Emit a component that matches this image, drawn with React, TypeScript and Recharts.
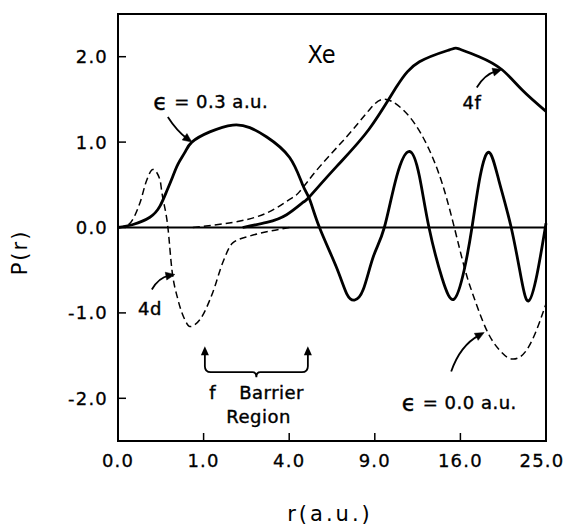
import React from 'react';
import { LineChart, Line, XAxis, YAxis, ReferenceLine, ReferenceArea, ReferenceDot } from 'recharts';

// r (a.u.) values and P(r) values
const eps03R = [0, 0.031, 0.139, 0.24, 0.326, 0.396, 0.489, 0.61, 0.744, 1.15, 1.8, 2.37, 3.02, 4.02, 4.65, 5.01, 5.54, 6.5, 7.15, 7.63, 8.2, 8.9, 9.68, 10.6, 11.6, 12.4, 13.2, 14.35, 15.4, 16.35, 17.1, 17.9, 18.8, 19.8, 21.1, 22.2, 23.0, 23.96, 25];
const eps03P = [0, 0.035, 0.12, 0.25, 0.43, 0.57, 0.74, 0.88, 1.0, 1.12, 1.2, 1.17, 1.06, 0.82, 0.5, 0.33, 0, -0.46, -0.78, -0.85, -0.73, -0.34, 0, 0.6, 0.89, 0.6, 0, -0.6, -0.84, -0.5, 0, 0.6, 0.88, 0.55, 0, -0.6, -0.86, -0.55, 0.05];

const f4R = [2.12, 3.02, 3.88, 4.65, 5.0, 6.5, 8.6, 10.6, 12.4, 15.0, 15.9, 17.8, 20.1, 22.3, 25];
const f4P = [0, 0.06, 0.15, 0.29, 0.36, 0.71, 1.15, 1.65, 1.94, 2.08, 2.09, 2.0, 1.85, 1.61, 1.36];

const d4R = [0, 0.0136, 0.066, 0.114, 0.166, 0.24, 0.263, 0.34, 0.396, 0.489, 0.61, 0.704, 0.913, 1.226, 1.498, 1.797, 2.367, 3.016, 4.02];
const d4P = [0, 0.03, 0.29, 0.56, 0.68, 0.56, 0.41, 0, -0.49, -0.84, -1.08, -1.16, -1.08, -0.76, -0.41, -0.18, -0.1, -0.05, 0];

const eps00R = [0.764, 1.797, 3.02, 4.02, 4.5, 5.54, 7.12, 8.63, 9.83, 11.58, 13.22, 14.7, 16.17, 17.12, 18.5, 19.82, 21.2, 23.06, 24.77, 25];
const eps00P = [0, 0.06, 0.17, 0.33, 0.42, 0.71, 1.06, 1.38, 1.5, 1.3, 0.91, 0.36, -0.37, -0.76, -1.19, -1.43, -1.54, -1.39, -0.96, -0.9];

const xTicks = [0, 1, 4, 9, 16, 25];
const yTicks = [-2, -1, 0, 1, 2];

// annotation texts (anchored in data coordinates)
const noteTexts = ['Xe', '= 0.3 a.u.', '4f', '4d', 'f', 'Barrier', 'Region', '= 0.0 a.u.'];
const noteEps = [false, true, false, false, false, false, false, true];
const noteR = [5.65, 1.175, 17.1, 0.139, 1.226, 3.22, 2.7, 15.9];
const noteP = [2.02, 1.47, 1.46, -0.95, -1.93, -1.93, -2.21, -2.05];

// arrow tips (data coordinates)
const arrowR = [0.744, 20.1, 0.441, 18.3];
const arrowP = [1.0, 1.85, -0.55, -1.23];
// brace anchored at left arrow tip
const braceR = 1.03;
const braceP = -1.39;

const toRows = (rs: number[], ps: number[]) => rs.map((r, i) => ({ r, p: ps[i] }));
const eps03 = toRows(eps03R, eps03P);
const f4 = toRows(f4R, f4P);
const d4 = toRows(d4R, d4P);
const eps00 = toRows(eps00R, eps00P);

const FONT = "'DejaVu Sans', 'Noto Sans', sans-serif";
const arrowGeom = [
  { tx: -24, ty: -25, cx: -15, cy: -11 },
  { tx: -25, ty: 18, cx: -17, cy: 5 },
  { tx: -23, ty: 15, cx: -16, cy: 3 },
  { tx: -33, ty: 39, cx: -24, cy: 13 },
];

const head = (x: number, y: number, ux: number, uy: number) => {
  const len = 9, w = 4;
  const bx = x - ux * len, by = y - uy * len;
  return `M${x},${y} L${bx - uy * w},${by + ux * w} L${bx + uy * w},${by - ux * w} Z`;
};

const makeArrow = (i: number) => (props: any) => {
  const { cx, cy } = props;
  const g = arrowGeom[i];
  const x0 = cx + g.tx, y0 = cy + g.ty, qx = cx + g.cx, qy = cy + g.cy;
  let ux = cx - qx, uy = cy - qy;
  const l = Math.hypot(ux, uy) || 1;
  ux /= l; uy /= l;
  return (
    <g>
      <path d={`M${x0},${y0} Q${qx},${qy} ${cx - ux * 6},${cy - uy * 6}`} fill="none" stroke="#000" strokeWidth={1.8} />
      <path d={head(cx, cy, ux, uy)} fill="#000" stroke="#000" strokeWidth={0.5} />
    </g>
  );
};

const makeNote = (i: number) => (props: any) => {
  const { cx, cy } = props;
  if (i === 0) {
    return (
      <text x={cx} y={cy} textAnchor="middle" dominantBaseline="central" fill="#000"
        style={{ fontSize: 25, fontFamily: "'Liberation Sans Narrow', 'DejaVu Sans Condensed', 'Liberation Sans', sans-serif" }}>
        {noteTexts[i]}
      </text>
    );
  }
  return (
    <text x={cx} y={cy} textAnchor="middle" dominantBaseline="central" fill="#000" stroke="#000" strokeWidth={0.4}
      style={{ fontSize: 18, fontFamily: FONT, letterSpacing: 0.5 }}>
      {noteEps[i] ? <tspan style={{ fontSize: 23 }}>ϵ</tspan> : null}
      {noteEps[i] ? ' ' : ''}
      {noteTexts[i]}
    </text>
  );
};

const Brace = (props: any) => {
  const { cx, cy } = props;
  const w = 103;
  const d = `M${cx},${cy + 6} L${cx},${cy + 20} Q${cx},${cy + 26} ${cx + 6},${cy + 26} L${cx + w / 2 - 4},${cy + 26} Q${cx + w / 2},${cy + 26} ${cx + w / 2},${cy + 31} Q${cx + w / 2},${cy + 26} ${cx + w / 2 + 4},${cy + 26} L${cx + w - 6},${cy + 26} Q${cx + w},${cy + 26} ${cx + w},${cy + 20} L${cx + w},${cy + 6}`;
  return (
    <g>
      <path d={d} fill="none" stroke="#000" strokeWidth={1.8} />
      <path d={head(cx, cy, 0, -1)} fill="#000" />
      <path d={head(cx + w, cy, 0, -1)} fill="#000" />
    </g>
  );
};

const XTick = (props: any) => {
  const { x, y, payload } = props;
  const last = payload.value === 25;
  return (
    <text x={last ? x - 4 : x} y={y} dy="0.71em" textAnchor="middle" fill="#000" stroke="#000" strokeWidth={0.3}
      style={{ fontSize: 18, fontFamily: FONT, letterSpacing: 1.2 }}>
      {Number(payload.value).toFixed(1)}
    </text>
  );
};

const YTick = (props: any) => {
  const { x, y, payload } = props;
  return (
    <text x={x} y={y} dy="0.36em" textAnchor="end" fill="#000" stroke="#000" strokeWidth={0.3}
      style={{ fontSize: 18, fontFamily: FONT, letterSpacing: 1.2 }}>
      {Number(payload.value).toFixed(1)}
    </text>
  );
};

const YTitle = (props: any) => {
  const vb = props.viewBox || { x: 38, y: 14, width: 80, height: 427 };
  const x = vb.x - 18;
  const y = vb.y + vb.height / 2 + 25;
  return (
    <text x={x} y={y} textAnchor="middle" dominantBaseline="central" transform={`rotate(-90, ${x}, ${y})`} fill="#000"
      style={{ fontSize: 21, fontFamily: FONT, letterSpacing: 2 }}>
      P(r)
    </text>
  );
};

const XTitle = (props: any) => {
  const vb = props.viewBox || { x: 118, y: 441, width: 428, height: 60 };
  const x = vb.x + vb.width / 2 - 2;
  const y = vb.y + 73;
  return (
    <text x={x} y={y} textAnchor="middle" dominantBaseline="central" fill="#000"
      style={{ fontSize: 21, fontFamily: FONT, letterSpacing: 3 }}>
      r(a.u.)
    </text>
  );
};

export default function App() {
  return (
    <div style={{ position: 'fixed', left: 0, top: 0, width: 568, height: 528, background: '#fff' }}>
      <LineChart width={568} height={528} margin={{ top: 14, right: 22, bottom: 27, left: 38 }}>
        <XAxis
          dataKey="r"
          type="number"
          scale="sqrt"
          domain={[0, 25]}
          ticks={xTicks}
          interval={0}
          allowDuplicatedCategory={false}
          height={60}
          tickSize={-8}
          tickMargin={21}
          tick={<XTick />}
          axisLine={{ stroke: '#000', strokeWidth: 2 }}
          tickLine={{ stroke: '#000', strokeWidth: 1.5 }}
          label={<XTitle />}
        />
        <YAxis
          type="number"
          domain={[-2.5, 2.5]}
          ticks={yTicks}
          interval={0}
          width={80}
          tickSize={-8}
          tickMargin={18}
          tick={<YTick />}
          axisLine={{ stroke: '#000', strokeWidth: 2 }}
          tickLine={{ stroke: '#000', strokeWidth: 1.5 }}
          label={<YTitle />}
        />
        <ReferenceLine y={0} stroke="#000" strokeWidth={1.8} />
        <Line data={d4} dataKey="p" type="monotone" stroke="#000" strokeWidth={1.5} strokeDasharray="7 4" dot={false} isAnimationActive={false} />
        <Line data={eps00} dataKey="p" type="natural" stroke="#000" strokeWidth={1.5} strokeDasharray="7 4" dot={false} isAnimationActive={false} />
        <Line data={f4} dataKey="p" type="natural" stroke="#000" strokeWidth={2.8} dot={false} isAnimationActive={false} />
        <Line data={eps03} dataKey="p" type="natural" stroke="#000" strokeWidth={2.8} dot={false} isAnimationActive={false} />
        <ReferenceArea x1={0} x2={25} y1={-2.5} y2={2.5} fill="none" fillOpacity={0} stroke="#000" strokeWidth={2} />
        {noteTexts.map((_, i) => (
          <ReferenceDot key={'n' + i} x={noteR[i]} y={noteP[i]} r={0} shape={makeNote(i)} />
        ))}
        {arrowR.map((_, i) => (
          <ReferenceDot key={'a' + i} x={arrowR[i]} y={arrowP[i]} r={0} shape={makeArrow(i)} />
        ))}
        <ReferenceDot x={braceR} y={braceP} r={0} shape={Brace} />
      </LineChart>
    </div>
  );
}
